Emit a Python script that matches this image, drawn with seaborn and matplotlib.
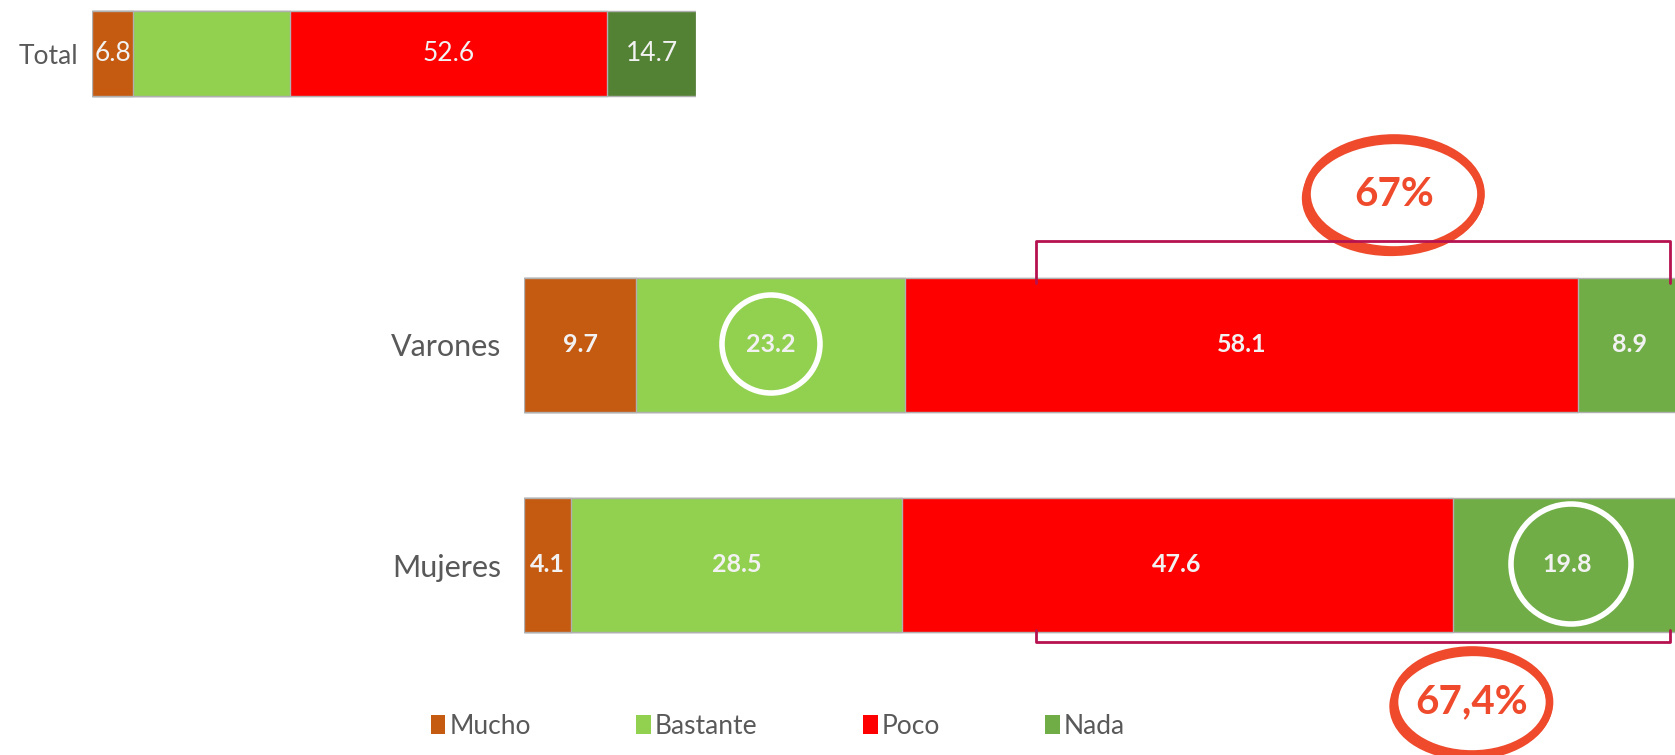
import numpy as np
import pandas as pd
import matplotlib.pyplot as plt
import seaborn as sns
from matplotlib.patches import Ellipse, Patch
from matplotlib.lines import Line2D

# data
categories = ['Mucho', 'Bastante', 'Poco', 'Nada']
total_vals = [6.8, 25.9, 52.6, 14.7]
total_labels = ['6.8', '', '52.6', '14.7']   # Bastante has no label in the original
groups = ['Varones', 'Mujeres']
varones_vals = [9.7, 23.2, 58.1, 8.9]
mujeres_vals = [4.1, 28.5, 47.6, 19.8]

colors = ['#C55A11', '#92D050', '#FF0000', '#70AD47']
total_colors = ['#C55A11', '#92D050', '#FF0000', '#548235']

sns.set_theme(style='white')
plt.rcParams['font.family'] = ['Lato', 'DejaVu Sans']

W, H = 1675, 755
fig = plt.figure(figsize=(W / 100, H / 100), dpi=100)


def fx(x):
    return x / W


def fy(y):
    return 1 - y / H


def stacked(ax, df, palette, width):
    cum = df[categories].cumsum(axis=1)
    # draw cumulative sums from the longest to the shortest so they stack
    for col, c in reversed(list(zip(categories, palette))):
        sns.barplot(x=cum[col], y=df['grupo'], color=c, width=width, orient='h',
                    saturation=1, edgecolor='#B0B0B0', linewidth=1, ax=ax)
    ax.set_xlim(0, 100)
    ax.set_xlabel('')
    ax.set_ylabel('')
    ax.set_xticks([])
    sns.despine(ax=ax, left=True, bottom=True)
    return cum


# Total bar (small chart at the top)
df_total = pd.DataFrame([total_vals], columns=categories)
df_total['grupo'] = ['Total']
ax_t = fig.add_axes([fx(92), fy(106.5), 604 / W, 106 / H])
cum_t = stacked(ax_t, df_total, total_colors, 0.8)
ax_t.tick_params(axis='y', length=0, pad=10, labelsize=19, labelcolor='#595959')
for i, col in enumerate(categories):
    if total_labels[i]:
        ax_t.text(cum_t[col][0] - total_vals[i] / 2, 0, total_labels[i], ha='center', va='center',
                  fontsize=19, color='#F2F2F2')

# Varones / Mujeres
df_sex = pd.DataFrame([varones_vals, mujeres_vals], columns=categories)
df_sex['grupo'] = groups
ax = fig.add_axes([fx(524), fy(675), 1158 / W, 440 / H])
cum_s = stacked(ax, df_sex, colors, 0.61)
ax.tick_params(axis='y', length=0, pad=16, labelsize=22, labelcolor='#595959')
for r, vals in enumerate([varones_vals, mujeres_vals]):
    for i, col in enumerate(categories):
        ax.text(cum_s[col][r] - vals[i] / 2, r, f'{vals[i]:.1f}', ha='center', va='center',
                fontsize=18, fontweight='bold', color='#F2F2F2')

# legend
handles = [Patch(facecolor=c, edgecolor='none', label=l) for c, l in zip(colors, categories)]
fig.legend(handles=handles, loc='center', bbox_to_anchor=(fx(778), fy(726)), ncol=4, frameon=False,
           handlelength=0.55, handleheight=0.75, handletextpad=0.15, columnspacing=4.0,
           fontsize=19, labelcolor='#595959')

# brackets
bracket_c = '#B5124F'
fig.add_artist(Line2D([fx(1036), fx(1036), fx(1670), fx(1670)], [fy(283), fy(241), fy(241), fy(283)],
                      color=bracket_c, lw=2, transform=fig.transFigure))
fig.add_artist(Line2D([fx(1036), fx(1036), fx(1670), fx(1670)], [fy(630), fy(642), fy(642), fy(630)],
                      color=bracket_c, lw=2, transform=fig.transFigure))

# white circles
for cx, cy, r in [(771, 344, 49), (1571, 564, 60)]:
    fig.add_artist(Ellipse((fx(cx), fy(cy)), 2 * r / W, 2 * r / H, transform=fig.transFigure,
                           fill=False, edgecolor='white', lw=4))

# orange hand-drawn ellipses with totals
orange = '#EF4A2C'
for (cx, cy, w, h, txt) in [(1394, 194, 174, 112, '67%'), (1472, 702, 155, 104, '67,4%')]:
    fig.add_artist(Ellipse((fx(cx), fy(cy)), w / W, h / H, transform=fig.transFigure,
                           fill=False, edgecolor=orange, lw=5.5))
    fig.add_artist(Ellipse((fx(cx - 1), fy(cy + 3)), (w + 2) / W, h / H, angle=-2,
                           transform=fig.transFigure, fill=False, edgecolor=orange, lw=4.5))
    fig.text(fx(cx), fy(cy), txt, ha='center', va='center', fontsize=29, fontweight='bold', color=orange)

fig.savefig('out.png', dpi=100)
